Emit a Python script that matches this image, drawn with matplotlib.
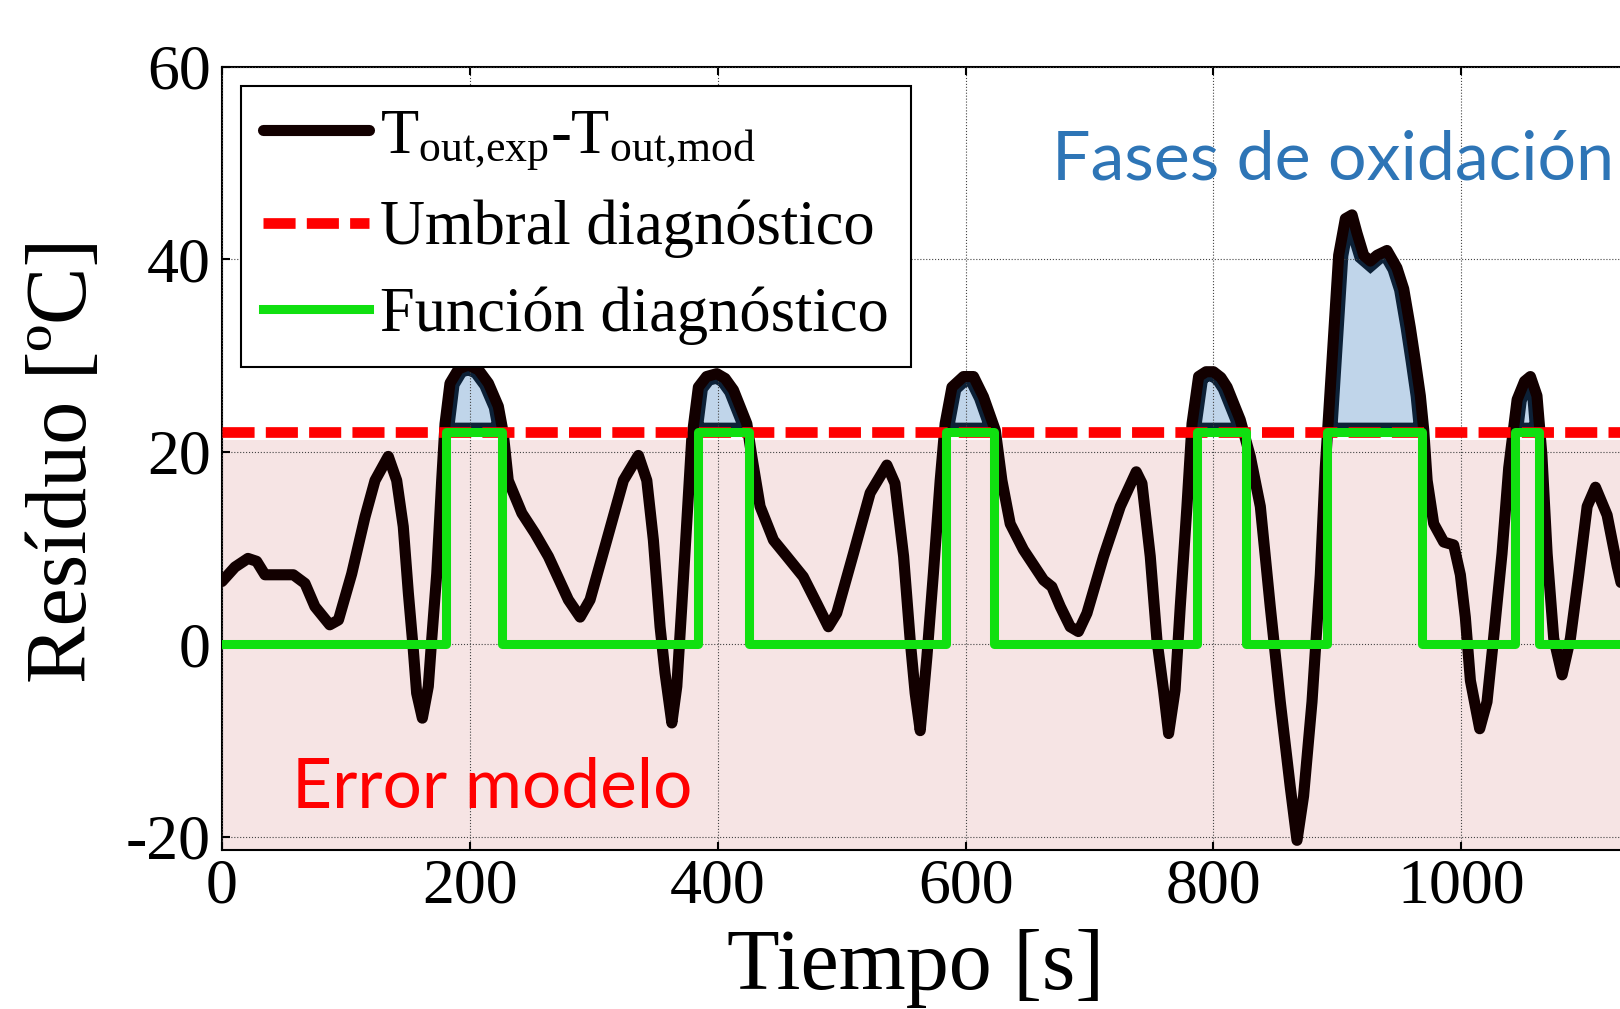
import numpy as np
import matplotlib.pyplot as plt
from matplotlib.patches import PathPatch

plt.rcParams['font.family'] = ['Liberation Serif', 'DejaVu Serif']
plt.rcParams['mathtext.fontset'] = 'custom'
plt.rcParams['mathtext.rm'] = 'Liberation Serif'
plt.rcParams['mathtext.it'] = 'Liberation Serif:italic'
plt.rcParams['axes.unicode_minus'] = False

# residual T_out,exp - T_out,mod
tiempo = [0, 10.5, 21, 28, 34.7, 57.6, 67, 75, 87, 94, 104.7, 115.4, 123.5, 134.2, 141,
          146.3, 150.4, 154.4, 157.1, 161.7, 166.5, 169.2, 173.3, 177.3, 180, 184, 191, 198.8,
          207, 215, 223, 227, 231, 242, 252.6, 263.4, 279.5, 289, 297, 310.5, 323.9, 336,
          342.8, 348.1, 353.5, 357.5, 363, 367, 371, 375, 379, 384.4, 391, 399.3, 406, 412.7, 423.5,
          427.5, 434.2, 445, 455.8, 469, 480, 489.3, 496, 509.5, 523, 536.5, 543, 550,
          555.3, 559.3, 563.4, 568.8, 574, 579.5, 583.5, 589, 598.3, 606.4, 614.4, 624,
          629.3, 636, 646.7, 662.9, 669.6, 676.4, 684.4, 691, 697.9, 711.3, 724.8, 737.7,
          742.3, 749, 754.4, 759.7, 763.8, 769, 773.2, 778.6, 782.7, 788, 794, 800, 806, 811, 821.6,
          829.7, 837.8, 845.8, 853.9, 862, 867.4, 872.7, 879.5, 886.2, 890.2, 895.6, 901,
          906.4, 911.8, 915.8, 921.2, 926.6, 932, 940, 948, 953.5, 958.8, 962.9, 966.9,
          969.6, 972.4, 977.7, 985.8, 993.8, 999.2, 1003.2, 1007.3, 1014.8, 1020.7, 1026,
          1032.8, 1038.2, 1045, 1051, 1055.7, 1061, 1065, 1069.2, 1074.5, 1081.3, 1088, 1094.7,
          1101.5, 1108.2, 1117.6, 1125.7, 1135]
residuo = [6.5, 8.0, 8.9, 8.6, 7.2, 7.2, 6.3, 3.9, 2.0, 2.5, 7.3, 13.2, 17.0, 19.5, 17.0,
           12.2, 5.3, -0.6, -5.1, -7.7, -4.4, 0.4, 7.3, 17.0, 22.9, 27.1, 28.6, 29.0,
           28.5, 27.1, 24.7, 21.9, 17.0, 13.6, 11.5, 9.1, 4.6, 2.8, 4.6, 10.8, 17.0, 19.6,
           17.0, 10.8, 1.8, -3.0, -8.2, -4.4, 3.9, 12.5, 21.2, 26.7, 27.8, 28.1, 27.6, 26.4, 22.9,
           19.5, 14.3, 10.8, 9.1, 7.0, 4.2, 1.8, 3.2, 9.4, 15.7, 18.6, 16.7, 9.1,
           0.4, -5.1, -9.0, -1.3, 7.3, 17.0, 22.9, 26.7, 27.8, 27.8, 25.7, 22.2,
           17.0, 12.5, 9.8, 6.65, 5.96, 3.9, 1.8, 1.3, 3.2, 9.1, 14.3, 17.9,
           16.7, 9.1, 0.4, -4.8, -9.3, -4.8, 3.9, 14.3, 22.9, 27.8, 28.3, 28.3, 27.7, 26.7, 23.3,
           19.5, 14.3, 3.9, -6.0, -14.9, -20.4, -15.8, -6.0, 7.2, 18.3, 29.4, 40.4,
           44.2, 44.6, 42.7, 40.4, 39.8, 40.4, 40.9, 39.1, 36.9, 32.9, 29.4, 25.8,
           22.3, 17.0, 12.5, 10.6, 10.3, 7.2, 2.8, -3.8, -8.8, -6.0, 0.6,
           9.4, 18.3, 25.4, 27.3, 27.8, 25.8, 19.6, 9.4, 0.6, -3.2, 0.6, 7.2,
           14.3, 16.3, 13.4, 8.1, 3.0]

umbral = 22.0
banda_error = 21.2

# diagnostic function switching instants
diag_t = [0, 181, 226, 384, 425, 584, 623, 787, 826, 892, 968, 1043, 1063, 1135]
diag_v = [0, 22, 0, 22, 0, 22, 0, 22, 0, 22, 0, 22, 0, 0]

xticks = [0, 200, 400, 600, 800, 1000]
yticks = [-20, 0, 20, 40, 60]

t = np.array(tiempo)
r = np.array(residuo)

fig = plt.figure(figsize=(16.2, 10.09), dpi=100)
ax = fig.add_axes([0.137, 0.1576, 0.863, 0.7763])
ax.set_xlim(0, 1128)
ax.set_ylim(-21.4, 60)

ax.axhspan(-21.4, banda_error, color='#f6e4e4', lw=0, zorder=0.5)

fases = ax.fill_between(t, r, umbral, where=r >= umbral, interpolate=True,
                        facecolor='#c0d5ea', edgecolor='none', zorder=1)
# dark rim just inside each filled phase
for p in fases.get_paths():
    borde = PathPatch(p, fc='none', ec='#0d2137', lw=14, transform=ax.transData, zorder=1.5)
    clip = PathPatch(p, transform=ax.transData)
    borde.set_clip_path(clip)
    ax.add_patch(borde)

ax.plot(t, r, color='#120000', lw=8, solid_joinstyle='round', solid_capstyle='round',
        zorder=3, label=r'T$_{\mathrm{out{,}exp}}$-T$_{\mathrm{out{,}mod}}$')
ax.axhline(umbral, color='#ff0000', lw=7.7, dashes=(3.0, 1.05), zorder=4,
           label='Umbral diagnóstico')
ax.plot(diag_t, diag_v, drawstyle='steps-post', color='#10e010', lw=6.5,
        solid_joinstyle='round', zorder=5, label='Función diagnóstico')

ax.set_axisbelow(False)
ax.grid(True, ls=':', color='#444444', lw=0.8)
ax.set_xticks(xticks)
ax.set_yticks(yticks)
ax.tick_params(direction='in', length=6, width=1.5, labelsize=46, top=True, right=False)
ax.tick_params(axis='x', pad=6)
ax.tick_params(axis='y', pad=8)
ax.spines['right'].set_visible(False)
for s in ['left', 'top', 'bottom']:
    ax.spines[s].set_linewidth(1.5)

ax.set_xlabel('Tiempo [s]', fontsize=62)
ax.xaxis.set_label_coords(0.496, -0.1)
ax.xaxis.label.set_va('top')
ax.set_ylabel('Resíduo [ºC]', fontsize=62)
ax.yaxis.set_label_coords(-0.084, 0.498)

ax.text(670, 48.3, 'Fases de oxidación', family='Lato', fontsize=49, color='#2e75b6',
        ha='left', va='baseline', zorder=6)
ax.text(56.5, -17.0, 'Error modelo', family='Lato', fontsize=50, color='#ff0000',
        ha='left', va='baseline', zorder=6)

leg = ax.legend(loc='upper left', bbox_to_anchor=(0.0136, 0.975), borderaxespad=0,
                fontsize=45, handlelength=1.7, handletextpad=0.18, labelspacing=0.45,
                borderpad=0.35, fancybox=False, framealpha=1, edgecolor='black')
leg.get_frame().set_linewidth(1.5)
leg.set_zorder(7)

fig.savefig('out.png', dpi=100)
